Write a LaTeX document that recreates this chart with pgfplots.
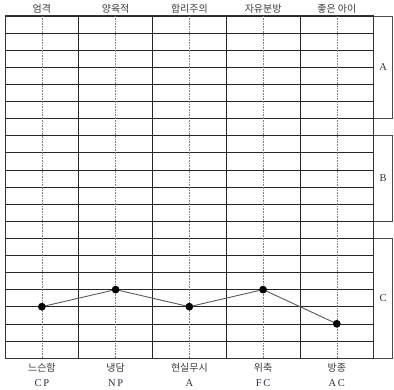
\documentclass[border=0pt]{standalone}
\usepackage{pgfplots}
\pgfplotsset{compat=1.18}
\usepackage{fontspec}
\setmainfont{Liberation Serif}
\newfontfamily\kr{Noto Sans CJK KR}
\definecolor{txt}{HTML}{3A3A3A}
\definecolor{lat}{HTML}{2B2F4A}
\begin{document}
\begin{tikzpicture}
\begin{axis}[
 scale only axis, width=368.7bp, height=342bp,
 xmin=0,xmax=5,ymin=0,ymax=20,
 xtick={0,1,2,3,4,5}, ytick={0,1,...,20},
 xticklabels={}, yticklabels={},
 major tick length=0pt,
 grid=major,
 major grid style={black!85, line width=0.6pt},
 axis line style={black!80, line width=1pt},
 extra x ticks={0.5,1.5,2.5,3.5,4.5},
 extra x tick labels={},
 extra x tick style={grid=major, major grid style={gray, densely dotted, line width=0.6pt}},
 clip=false,
]
\addplot[color=black!65, line width=0.9pt, mark=*, mark size=3.4pt, mark options={fill=black, draw=black, solid}] coordinates {(0.5,3) (1.5,4) (2.5,3) (3.5,4) (4.5,2)};
% top labels
\node[font=\kr\fontsize{10}{11}\selectfont, text=txt, yshift=7bp] at (axis cs:0.5,20) {엄격};
\node[font=\kr\fontsize{10}{11}\selectfont, text=txt, yshift=7bp] at (axis cs:1.5,20) {양육적};
\node[font=\kr\fontsize{10}{11}\selectfont, text=txt, yshift=7bp] at (axis cs:2.5,20) {합리주의};
\node[font=\kr\fontsize{10}{11}\selectfont, text=txt, yshift=7bp] at (axis cs:3.5,20) {자유분방};
\node[font=\kr\fontsize{10}{11}\selectfont, text=txt, yshift=7bp] at (axis cs:4.5,20) {좋은 아이};
% bottom labels
\node[font=\kr\fontsize{10}{11}\selectfont, text=txt, yshift=-10bp] at (axis cs:0.5,0) {느슨함};
\node[font=\kr\fontsize{10}{11}\selectfont, text=txt, yshift=-10bp] at (axis cs:1.5,0) {냉담};
\node[font=\kr\fontsize{10}{11}\selectfont, text=txt, yshift=-10bp] at (axis cs:2.5,0) {현실무시};
\node[font=\kr\fontsize{10}{11}\selectfont, text=txt, yshift=-10bp] at (axis cs:3.5,0) {위축};
\node[font=\kr\fontsize{10}{11}\selectfont, text=txt, yshift=-10bp] at (axis cs:4.5,0) {방종};
\node[font=\fontsize{10.5}{11}\selectfont, text=lat, yshift=-25.5bp] at (axis cs:0.5,0) {C\,P};
\node[font=\fontsize{10.5}{11}\selectfont, text=lat, yshift=-25.5bp] at (axis cs:1.5,0) {N\,P};
\node[font=\fontsize{10.5}{11}\selectfont, text=lat, yshift=-25.5bp] at (axis cs:2.5,0) {A};
\node[font=\fontsize{10.5}{11}\selectfont, text=lat, yshift=-25.5bp] at (axis cs:3.5,0) {F\,C};
\node[font=\fontsize{10.5}{11}\selectfont, text=lat, yshift=-25.5bp] at (axis cs:4.5,0) {A\,C};
% brackets
\draw[black!70, line width=0.8pt] (axis cs:5,20) -- (axis cs:5.258,20) -- (axis cs:5.258,14) -- (axis cs:5,14);
\draw[black!70, line width=0.8pt] (axis cs:5,13) -- (axis cs:5.258,13) -- (axis cs:5.258,8) -- (axis cs:5,8);
\draw[black!70, line width=0.8pt] (axis cs:5,7) -- (axis cs:5.258,7) -- (axis cs:5.258,0) -- (axis cs:5,0);
\node[font=\fontsize{10.5}{11}\selectfont, text=lat] at (axis cs:5.129,17) {A};
\node[font=\fontsize{10.5}{11}\selectfont, text=lat] at (axis cs:5.129,10.5) {B};
\node[font=\fontsize{10.5}{11}\selectfont, text=lat] at (axis cs:5.129,3.5) {C};
\end{axis}
\pgfresetboundingbox
\useasboundingbox ([shift={(-5bp,-32bp)}]current axis.south west) rectangle ([shift={(20.3bp,16bp)}]current axis.north east);
\end{tikzpicture}
\end{document}
